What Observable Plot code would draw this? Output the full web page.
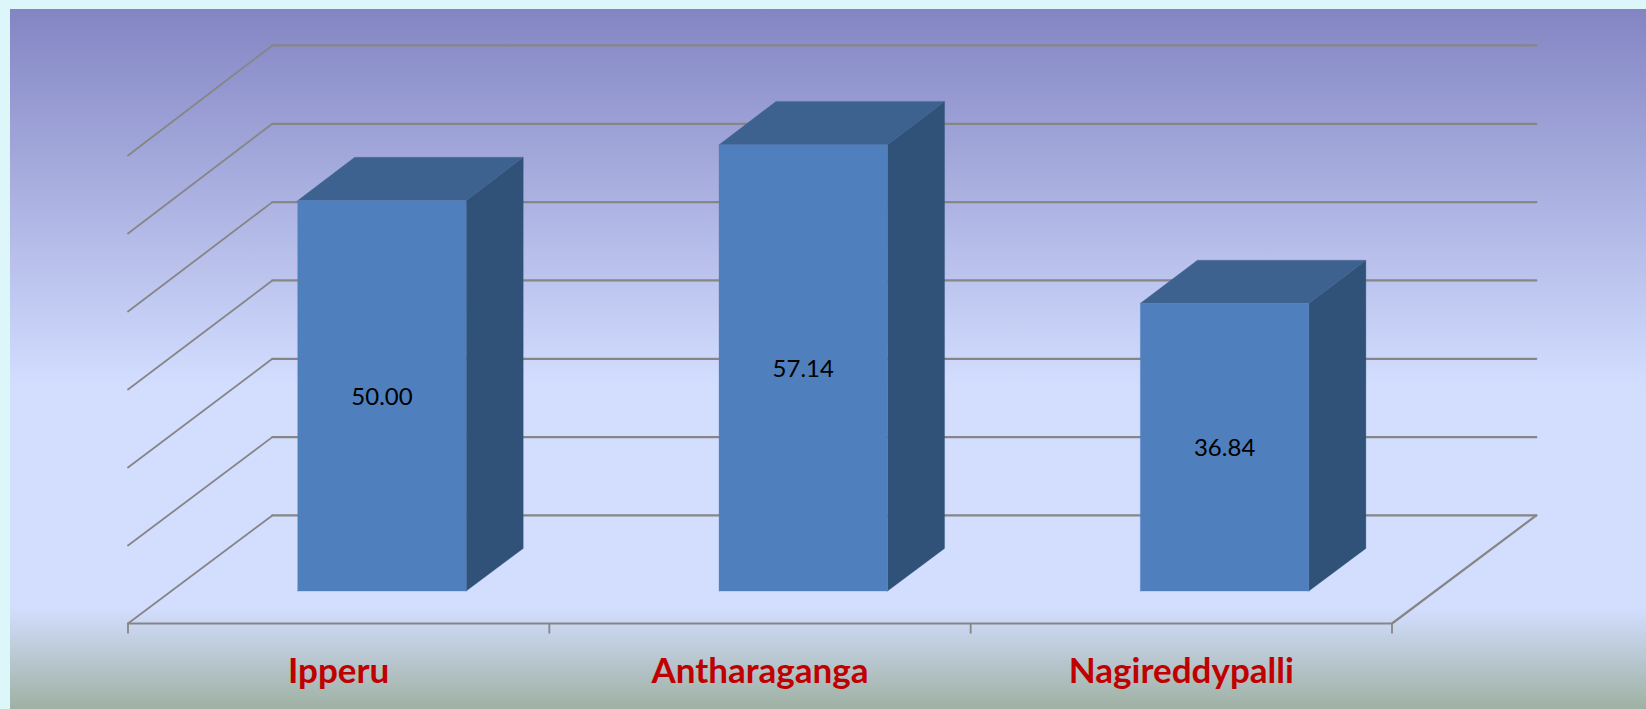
<!DOCTYPE html>
<html><head><meta charset="utf-8">
<script src="https://cdn.jsdelivr.net/npm/d3@7"></script>
<script src="https://cdn.jsdelivr.net/npm/@observablehq/plot@0.6"></script>
<style>
html,body{margin:0;padding:0;background:#dcf6fa;overflow:hidden}
#chart{position:absolute;left:10px;top:9px}
svg{display:block}
</style></head><body><div id="chart"></div>
<script>
const categories = ["Ipperu", "Antharaganga", "Nagireddypalli"];
const values = [50.00, 57.14, 36.84];
const labels = ["50.00", "57.14", "36.84"];
const gridLevels = [0, 10, 20, 30, 40, 50, 60];
const slotEdges = [0, 1, 2, 3];

// oblique projection of (slot, value, depth) to the x and y data spaces
const depthX = 0.3425, depthY = 13.85, perspective = 0.0043;
const px = (slot, d) => slot + d * depthX;
const py = (v, d) => v * (1 + perspective * d) + d * depthY;
const P = (slot, v, d, id) => ({x: px(slot, d), y: py(v, d), id});

const dFront = 0.3, dBack = 0.695, barStart = 0.3, barEnd = 0.7, labelValue = -6.2, tickLen = -1.35;

const gridBack = gridLevels.flatMap(l => [P(0, l, 1, "b" + l), P(3, l, 1, "b" + l)]);
const gridSide = gridLevels.flatMap(l => [P(0, l, 0, "s" + l), P(0, l, 1, "s" + l)]);
const floorEdges = [P(0, 0, 0, "f"), P(3, 0, 0, "f"), P(3, 0, 1, "f")];

const faces = (fn) => values.flatMap((v, i) => fn(v, i).map(p => ({...p, id: i})));
const a = i => i + barStart, b = i => i + barEnd;
const frontFace = faces((v, i) => [P(a(i), 0, dFront), P(b(i), 0, dFront), P(b(i), v, dFront), P(a(i), v, dFront), P(a(i), 0, dFront)]);
const topFace = faces((v, i) => [P(a(i), v, dFront), P(b(i), v, dFront), P(b(i), v, dBack), P(a(i), v, dBack), P(a(i), v, dFront)]);
const sideFace = faces((v, i) => [P(b(i), 0, dFront), P(b(i), 0, dBack), P(b(i), v, dBack), P(b(i), v, dFront), P(b(i), 0, dFront)]);

const lineOpts = {x: "x", y: "y", z: "id", strokeLinejoin: "miter"};
const gridStyle = {...lineOpts, stroke: "#868686", strokeWidth: 2.2};
const face = (data, color) => Plot.line(data, {...lineOpts, fill: color, stroke: color, strokeWidth: 0.3});

const plot = Plot.plot({
  width: 1636, height: 700, margin: 0,
  style: {background: "linear-gradient(180deg,#8385c3 0%,#d3deff 54%,#d3deff 85.5%,#9fb1a3 100%)", overflow: "visible"},
  x: {type: "linear", domain: [0, 3], range: [117.5, 1381.5], axis: null},
  y: {type: "linear", domain: [0, 60], range: [614, 146], axis: null},
  marks: [
    Plot.line(gridBack, gridStyle),
    Plot.line(gridSide, {...gridStyle, strokeWidth: 1.8}),
    Plot.line(floorEdges, gridStyle),
    Plot.ruleX(slotEdges, {x: d => d, y1: 0, y2: tickLen, stroke: "#868686", strokeWidth: 1.8}),
    face(sideFace, "#305279"),
    face(topFace, "#3d6290"),
    face(frontFace, "#4f7fbc"),
    Plot.text(labels, {
      x: (d, i) => px(i + 0.5, dFront), y: (d, i) => py(values[i] / 2, dFront), text: d => d, dy: 1,
      fill: "#000", fontSize: 24, fontFamily: "Lato"
    }),
    Plot.text(categories, {
      x: (d, i) => i + 0.5, y: () => labelValue, text: d => d,
      fill: "#c00000", fontSize: 35, fontWeight: "bold", fontFamily: "Lato"
    })
  ]
});
document.getElementById("chart").append(plot);
</script></body></html>
